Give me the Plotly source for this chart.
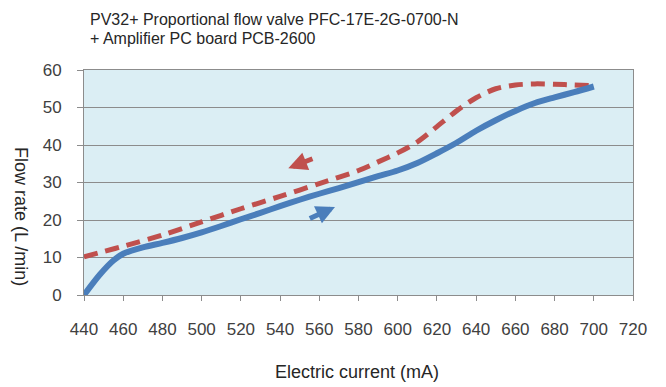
import plotly.graph_objects as go

# Increasing current (solid blue)
up_current = [440, 448, 455, 460, 470, 480, 490, 500, 510, 520, 530, 540, 550, 560,
              570, 580, 590, 600, 610, 620, 630, 640, 650, 660, 670, 680, 690, 700]
up_flow = [0.0, 5.4, 9.2, 11.0, 12.7, 13.9, 15.2, 16.7, 18.4, 20.2, 21.9, 23.7, 25.4, 27.0,
           28.5, 30.1, 31.7, 33.2, 35.2, 37.8, 40.6, 43.8, 46.6, 49.1, 51.2, 52.7, 54.1, 55.6]

# Decreasing current (dashed red)
down_current = [440, 450, 460, 480, 500, 520, 540, 560, 580, 590, 600, 610, 620, 630,
                640, 650, 660, 670, 680, 690, 700]
down_flow = [10.2, 11.6, 13.0, 16.0, 19.5, 23.0, 26.3, 29.7, 33.2, 35.5, 37.9, 40.8, 44.9,
             49.1, 52.6, 55.0, 56.0, 56.3, 56.2, 56.0, 55.8]

x_ticks = [440, 460, 480, 500, 520, 540, 560, 580, 600, 620, 640, 660, 680, 700, 720]
y_ticks = [0, 10, 20, 30, 40, 50, 60]

title_lines = ["PV32+ Proportional flow valve PFC-17E-2G-0700-N", "+ Amplifier PC board PCB-2600"]
x_title = "Electric current (mA)"
y_title = "Flow rate (L /min)"

BLUE = "#4a7ebb"
RED = "#c0504d"
FONT = "Liberation Sans, Arial, sans-serif"
TXT = "#262626"

# page body has an 8px margin, so the figure is sized to end at the window edge
PW, PH = 549, 225  # plot area size in px

fig = go.Figure()
fig.add_trace(go.Scatter(x=down_current, y=down_flow, mode="lines",
                         line=dict(color=RED, width=5, dash="14px,8px", shape="spline", smoothing=0.8),
                         showlegend=False, hoverinfo="skip"))
fig.add_trace(go.Scatter(x=up_current, y=up_flow, mode="lines",
                         line=dict(color=BLUE, width=6, shape="spline", smoothing=0.8),
                         showlegend=False, hoverinfo="skip"))

# direction arrows (data coordinates)
fig.add_annotation(x=544.2, y=33.8, ax=557.3, ay=36.5, xref="x", yref="y", axref="x", ayref="y",
                   text="", showarrow=True, arrowhead=2, arrowsize=0.75, arrowwidth=5, arrowcolor=RED)
fig.add_annotation(x=568.0, y=23.5, ax=554.4, ay=20.2, xref="x", yref="y", axref="x", ayref="y",
                   text="", showarrow=True, arrowhead=2, arrowsize=0.75, arrowwidth=5, arrowcolor=BLUE)

title_centers = [20, 38.5]
for line, cy in zip(title_lines, title_centers):
    fig.add_annotation(text=line, xref="paper", yref="paper",
                       x=4 / PW, y=1 + (70 - cy) / PH, xanchor="left", yanchor="middle", align="left",
                       showarrow=False, font=dict(family=FONT, size=16, color=TXT))
fig.add_annotation(text=x_title, xref="paper", yref="paper", x=(357 - 84) / PW,
                   y=-(372 - 295) / PH, xanchor="center", yanchor="middle", showarrow=False,
                   font=dict(family=FONT, size=18, color=TXT))
fig.add_annotation(text=y_title, xref="paper", yref="paper", x=(21 - 84) / PW,
                   y=(295 - 216) / PH, xanchor="center", yanchor="middle", textangle=90,
                   showarrow=False, font=dict(family=FONT, size=18, color=TXT))

fig.update_layout(
    width=658, height=379,
    margin=dict(l=76, r=33, t=62, b=92),
    paper_bgcolor="white", plot_bgcolor="#dbeef4",
    font=dict(family=FONT, size=17, color="#404040"),
)
fig.update_xaxes(range=[440, 720], tickvals=x_ticks, ticktext=[str(v) for v in x_ticks],
                 showgrid=False, zeroline=False, showline=True, linecolor="#8c8c8c", linewidth=1,
                 mirror=True, ticks="outside", ticklen=5, tickcolor="#8c8c8c",
                 ticklabelstandoff=14, tickfont=dict(size=17, color="#404040"))
fig.update_yaxes(range=[0, 60], tickvals=y_ticks, ticktext=[str(v) for v in y_ticks],
                 showgrid=True, gridcolor="#8c8c8c", gridwidth=1, zeroline=False,
                 showline=True, linecolor="#8c8c8c", linewidth=1, mirror=True,
                 ticks="outside", ticklen=6, tickcolor="#8c8c8c", ticklabelstandoff=12,
                 tickfont=dict(size=17, color="#404040"))

fig.write_html("out.html")
